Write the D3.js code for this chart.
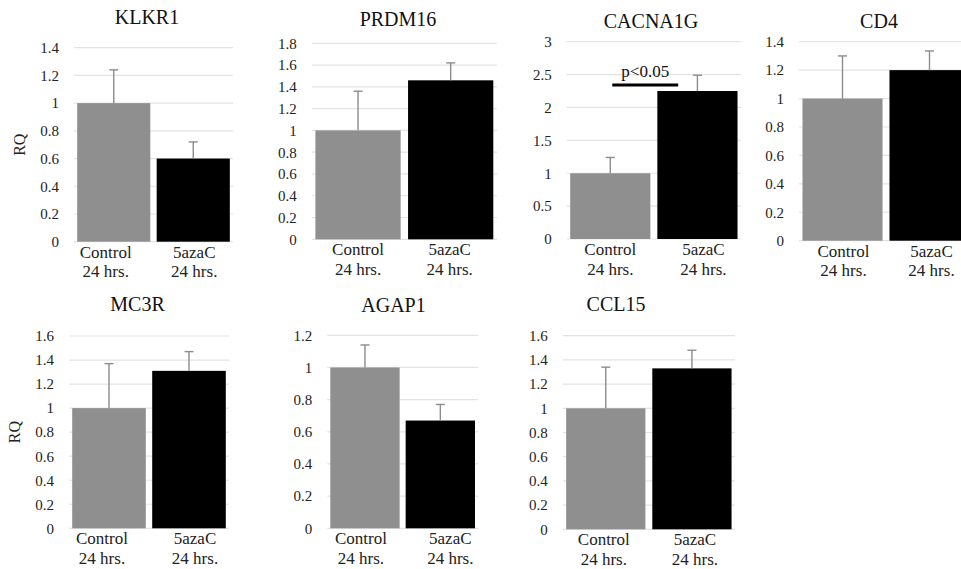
<!DOCTYPE html>
<html>
<head>
<meta charset="utf-8">
<script src="https://cdn.jsdelivr.net/npm/d3@7"></script>
</head>
<body style="margin:0">
<svg class="d3-content" width="961" height="569"></svg>
<script>
//data
const genes = ["KLKR1", "PRDM16", "CACNA1G", "CD4", "MC3R", "AGAP1", "CCL15"]
const groups = ["Control", "5azaC"]
const groupSub = "24 hrs."
const controlRQ = [1, 1, 1, 1, 1, 1, 1]
const azaRQ = [0.6, 1.46, 2.25, 1.2, 1.31, 0.67, 1.33]
const controlErr = [0.24, 0.36, 0.24, 0.30, 0.37, 0.14, 0.34]
const azaErr = [0.12, 0.16, 0.24, 0.135, 0.16, 0.10, 0.15]
const yMax = [1.4, 1.8, 3, 1.4, 1.6, 1.2, 1.6]
const yStep = [0.2, 0.2, 0.5, 0.2, 0.2, 0.2, 0.2]
const sigGene = "CACNA1G"
const sigLevel = 2.34
const sigText = "p<0.05"

//layout of each panel (pixels)
const panels = [
    {x0: 74, x1: 233, top: 47.7, bottom: 241.7, tx: 147, ty: 24, dx: [-8, 1], rq: true},
    {x0: 311.7, x1: 497, top: 43.3, bottom: 239.3, tx: 398, ty: 26, dx: [0, -1]},
    {x0: 566.7, x1: 741, top: 41.7, bottom: 239, tx: 651, ty: 27.5, dx: [0, 6]},
    {x0: 799, x1: 973, top: 41.7, bottom: 240.7, tx: 879, ty: 28, dx: [1, 2]},
    {x0: 69, x1: 229, top: 336, bottom: 528.3, tx: 137.5, ty: 310.5, dx: [-7, 6], rq: true},
    {x0: 327.3, x1: 478, top: 335.3, bottom: 528.3, tx: 393.5, ty: 311.5, dx: [-4, 10]},
    {x0: 562.7, x1: 735, top: 335.7, bottom: 529.3, tx: 616, ty: 310.5, dx: [-2, 3]}
]

const font = "'Times New Roman'"
const colors = ["#8f8f8f", "#000000"]
const errColor = "#8c8c8c"
const gridColor = "#e3e3e3"

const svg = d3.select('.d3-content')
    .style('font-family', font)

genes.forEach((gene, i) => {
    const p = panels[i]
    const rows = [
        {group: groups[0], value: controlRQ[i], err: controlErr[i]},
        {group: groups[1], value: azaRQ[i], err: azaErr[i]}
    ]

    //scales
    const xScale = d3.scaleBand()
        .domain(groups)
        .range([p.x0, p.x1])
        .paddingInner(0.08)
        .paddingOuter(0.04)
    const yScale = d3.scaleLinear()
        .domain([0, yMax[i]])
        .range([p.bottom, p.top])

    const ticks = d3.range(0, Math.round(yMax[i] / yStep[i]) + 1)
        .map(k => +(k * yStep[i]).toFixed(2))

    const g = svg.append('g')

    //gridlines
    g.append('g')
        .selectAll('line')
        .data(ticks)
        .join('line')
        .attr('x1', p.x0)
        .attr('x2', p.x1)
        .attr('y1', d => yScale(d))
        .attr('y2', d => yScale(d))
        .attr('stroke', gridColor)
        .attr('stroke-width', 1.2)

    //y axis
    const yAxis = d3.axisLeft(yScale)
        .tickValues(ticks)
        .tickSize(0)
        .tickPadding(15)
        .tickFormat(d => String(d))
    const ya = g.append('g')
        .attr('transform', `translate(${p.x0}, 0)`)
        .call(yAxis)
        .attr('font-family', null)
        .attr('font-size', 15)
    ya.select('.domain').remove()
    ya.selectAll('text')
        .style('font-family', font)
        .attr('fill', '#222')

    //bars
    g.selectAll('rect.bar')
        .data(rows)
        .join('rect')
        .attr('class', 'bar')
        .attr('x', d => xScale(d.group))
        .attr('width', xScale.bandwidth())
        .attr('y', d => yScale(d.value))
        .attr('height', d => yScale(0) - yScale(d.value))
        .attr('fill', (d, j) => colors[j])

    //error bars (upper only)
    const cx = d => xScale(d.group) + xScale.bandwidth() / 2
    g.selectAll('line.err')
        .data(rows)
        .join('line')
        .attr('class', 'err')
        .attr('x1', cx)
        .attr('x2', cx)
        .attr('y1', d => yScale(d.value))
        .attr('y2', d => yScale(d.value + d.err))
        .attr('stroke', errColor)
        .attr('stroke-width', 1.4)
    g.selectAll('line.cap')
        .data(rows)
        .join('line')
        .attr('class', 'cap')
        .attr('x1', d => cx(d) - 4.5)
        .attr('x2', d => cx(d) + 4.5)
        .attr('y1', d => yScale(d.value + d.err))
        .attr('y2', d => yScale(d.value + d.err))
        .attr('stroke', errColor)
        .attr('stroke-width', 1.4)

    //category labels, one text per line
    rows.forEach((d, j) => {
        g.append('text')
            .attr('x', cx(d) + p.dx[j])
            .attr('y', p.bottom + 16)
            .attr('text-anchor', 'middle')
            .attr('font-size', 17)
            .attr('fill', '#222')
            .style('font-family', font)
            .text(d.group)
        g.append('text')
            .attr('x', cx(d) + p.dx[j])
            .attr('y', p.bottom + 35.5)
            .attr('text-anchor', 'middle')
            .attr('font-size', 17)
            .attr('fill', '#222')
            .style('font-family', font)
            .text(groupSub)
    })

    //title
    g.append('text')
        .attr('x', p.tx)
        .attr('y', p.ty)
        .attr('text-anchor', 'middle')
        .attr('font-size', 20)
        .attr('fill', '#111')
        .style('font-family', font)
        .text(gene)

    //y label
    if (p.rq) {
        g.append('text')
            .attr('transform', `translate(${p.x0 - 49}, ${(p.top + p.bottom) / 2}) rotate(-90)`)
            .attr('text-anchor', 'middle')
            .attr('font-size', 16)
            .attr('fill', '#222')
            .style('font-family', font)
            .text('RQ')
    }

    //significance marker
    if (gene === sigGene) {
        const sx1 = cx(rows[0]) + 2
        const sx2 = xScale(groups[1]) + xScale.bandwidth() * 0.26
        g.append('line')
            .attr('x1', sx1)
            .attr('x2', sx2)
            .attr('y1', yScale(sigLevel))
            .attr('y2', yScale(sigLevel))
            .attr('stroke', '#000')
            .attr('stroke-width', 3)
        g.append('text')
            .attr('x', (sx1 + sx2) / 2)
            .attr('y', yScale(sigLevel) - 8)
            .attr('text-anchor', 'middle')
            .attr('font-size', 17)
            .attr('fill', '#111')
            .style('font-family', font)
            .text(sigText)
    }
})
</script>
</body>
</html>
